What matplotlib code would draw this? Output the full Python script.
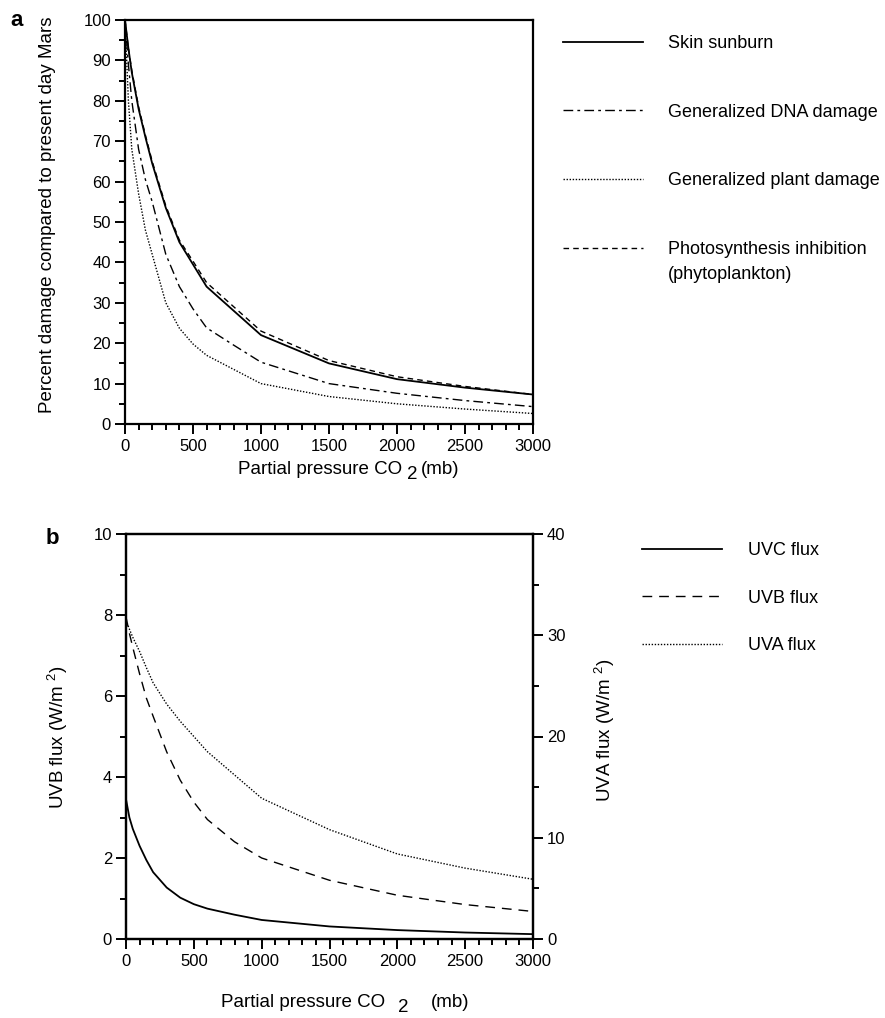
import matplotlib
matplotlib.use('Agg')
from matplotlib import pyplot as plt
from matplotlib.ticker import MultipleLocator

plt.rcParams['font.family'] = ['Liberation Sans', 'DejaVu Sans']
plt.rcParams['mathtext.fontset'] = 'custom'
plt.rcParams['mathtext.rm'] = 'Liberation Sans'

# partial pressure CO2 (mb)
pressure = [0, 25, 50, 100, 150, 200, 300, 400, 500, 600, 800, 1000, 1500, 2000, 2500, 3000]

# panel a: percent damage compared to present day Mars
skin_sunburn = [100, 93, 87, 78, 71, 64.5, 53.5, 45, 39.5, 34, 28, 22, 15, 11.1, 9, 7.3]
dna_damage = [100, 89, 80, 68, 60.5, 55, 42, 34, 28.5, 23.8, 19.5, 15.3, 10, 7.6, 5.8, 4.3]
plant_damage = [100, 80, 68, 57, 48, 42, 30, 23.7, 19.8, 17, 13.5, 10, 6.8, 5, 3.7, 2.6]
photosynthesis = [100, 93, 87.5, 78.5, 71.5, 65, 54, 45.5, 40.3, 35, 29, 23, 15.7, 11.7, 9.3, 7.3]

# panel b: fluxes (W/m2); UVC and UVB on left axis, UVA on right axis
uvc_flux = [3.45, 3.0, 2.72, 2.3, 1.95, 1.65, 1.27, 1.02, 0.86, 0.75, 0.6, 0.47, 0.31, 0.22, 0.16, 0.12]
uvb_flux = [7.95, 7.55, 7.2, 6.55, 5.95, 5.5, 4.62, 3.92, 3.38, 2.95, 2.4, 2.0, 1.45, 1.08, 0.85, 0.68]
uva_flux = [31.5, 30.6, 29.8, 28.4, 26.8, 25.3, 23.2, 21.5, 20.0, 18.5, 16.2, 13.9, 10.8, 8.4, 7.0, 5.9]

W, H = 885, 1018
fig = plt.figure(figsize=(W / 100, H / 100), dpi=100)


def px_box(x0, y0, x1, y1):
    return [x0 / W, 1 - y1 / H, (x1 - x0) / W, (y1 - y0) / H]


def style_axis(ax, lw=1.6):
    for s in ax.spines.values():
        s.set_linewidth(lw)
    ax.tick_params(which='both', direction='out', labelsize=12, width=1.4)
    ax.tick_params(which='major', length=7)
    ax.tick_params(which='minor', length=4)
    ax.tick_params(axis='x', pad=4)
    ax.tick_params(axis='y', pad=3)


def co2_label(x_end, y_base, gap2, drop, gap_mb):
    t1 = fig.text(x_end / W, 1 - y_base / H, 'Partial pressure CO', fontsize=13.5,
                  ha='right', va='baseline')
    t2 = fig.text(0, 0, '2', fontsize=13.5, va='baseline')
    t3 = fig.text(0, 0, '(mb)', fontsize=13.5, va='baseline')
    r = fig.canvas.get_renderer()
    w2 = t2.get_window_extent(r).width
    x2 = x_end + gap2
    t2.set_position((x2 / W, 1 - (y_base + drop) / H))
    x3 = x2 + w2 + gap_mb
    t3.set_position((x3 / W, 1 - y_base / H))


# ---- panel a ----
ax = fig.add_axes(px_box(125, 20, 533, 424))
ax.plot(pressure, skin_sunburn, color='black', lw=1.3, label='Skin sunburn')
ax.plot(pressure, dna_damage, color='black', lw=1.0, linestyle=(0, (7, 3, 2, 3)),
        label='Generalized DNA damage')
ax.plot(pressure, plant_damage, color='black', lw=1.0, linestyle=(0, (1, 1.2)),
        label='Generalized plant damage')
ax.plot(pressure, photosynthesis, color='black', lw=1.0, linestyle=(0, (4, 3)),
        label='Photosynthesis inhibition')
ax.set_xlim(0, 3000)
ax.set_ylim(0, 100)
ax.xaxis.set_major_locator(MultipleLocator(500))
ax.xaxis.set_minor_locator(MultipleLocator(100))
ax.yaxis.set_major_locator(MultipleLocator(10))
ax.yaxis.set_minor_locator(MultipleLocator(5))
style_axis(ax)
ax.text(-0.191, 0.518, 'Percent damage compared to present day Mars', transform=ax.transAxes,
        rotation=90, ha='center', va='center', fontsize=13.5)
leg = ax.legend(loc='upper left', bbox_to_anchor=(563 / W, 1 - 35 / H),
                bbox_transform=fig.transFigure, frameon=False, fontsize=13,
                handlelength=4.43, handletextpad=1.38, labelspacing=2.86,
                borderpad=0, borderaxespad=0)
fig.canvas.draw()
ax.annotate('(phytoplankton)', xy=(0, 0), xycoords=leg.get_texts()[3],
            xytext=(0, -15), textcoords='offset points', fontsize=13,
            ha='left', va='baseline')
co2_label(402, 474, 5, 5, 3)
fig.text(17 / W, 1 - 20 / H, 'a', fontsize=16, fontweight='bold', ha='center', va='center')

# ---- panel b ----
bx = fig.add_axes(px_box(126, 534, 533, 939))
l1, = bx.plot(pressure, uvc_flux, color='black', lw=1.3, label='UVC flux')
l2, = bx.plot(pressure, uvb_flux, color='black', lw=1.0, linestyle=(0, (7, 5)), label='UVB flux')
bx.set_xlim(0, 3000)
bx.set_ylim(0, 10)
bx.xaxis.set_major_locator(MultipleLocator(500))
bx.xaxis.set_minor_locator(MultipleLocator(100))
bx.yaxis.set_major_locator(MultipleLocator(2))
bx.yaxis.set_minor_locator(MultipleLocator(1))
style_axis(bx)
bx.text(-0.167, 0.499, 'UVB flux (W/m $^{2}$)', transform=bx.transAxes,
        rotation=90, ha='center', va='center', fontsize=13.5)

bx2 = bx.twinx()
l3, = bx2.plot(pressure, uva_flux, color='black', lw=1.0, linestyle=(0, (1, 1.2)), label='UVA flux')
bx2.set_ylim(0, 40)
bx2.yaxis.set_major_locator(MultipleLocator(10))
bx2.yaxis.set_minor_locator(MultipleLocator(5))
style_axis(bx2)
bx2.text(1.177, 0.516, 'UVA flux (W/m $^{2}$)', transform=bx2.transAxes,
         rotation=90, ha='center', va='center', fontsize=13.5)
bx2.legend(handles=[l1, l2, l3], loc='upper left', bbox_to_anchor=(642 / W, 1 - 542 / H),
           bbox_transform=fig.transFigure, frameon=False, fontsize=13, handlelength=4.43,
           handletextpad=1.44, labelspacing=1.69, borderpad=0, borderaxespad=0)
co2_label(385, 1007, 13, 5, 22)
fig.text(52 / W, 1 - 539 / H, 'b', fontsize=16, fontweight='bold', ha='center', va='center')

fig.savefig('out.png', dpi=100)
